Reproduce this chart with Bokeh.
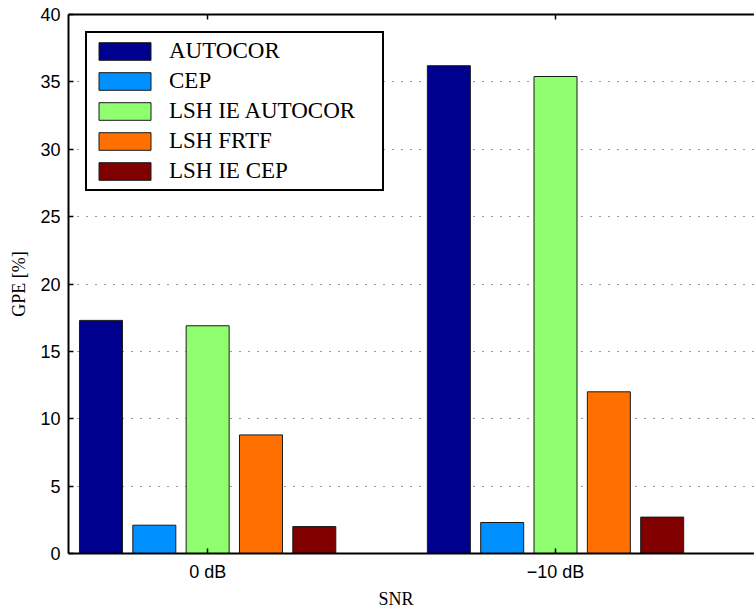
from bokeh.plotting import figure
from bokeh.models import (ColumnDataSource, FixedTicker, LinearAxis, Range1d,
                          Legend, LegendItem, Title)
from bokeh.embed import file_html
from bokeh.resources import INLINE

# Gross pitch error per method at two SNR conditions
snr_labels = ["0 dB", "\u221210 dB"]
snr_pos = [1, 2]
methods = ["AUTOCOR", "CEP", "LSH IE AUTOCOR", "LSH FRTF", "LSH IE CEP"]
gpe_autocor = [17.3, 36.2]
gpe_cep = [2.1, 2.3]
gpe_lsh_ie_autocor = [16.9, 35.4]
gpe_lsh_frtf = [8.8, 12.0]
gpe_lsh_ie_cep = [2.0, 2.7]
colors = ["#00008F", "#0090FF", "#8FFF70", "#FF7000", "#800000"]
y_ticks = [0, 5, 10, 15, 20, 25, 30, 35, 40]

series = [gpe_autocor, gpe_cep, gpe_lsh_ie_autocor, gpe_lsh_frtf, gpe_lsh_ie_cep]

p = figure(width=754, height=615, output_backend="svg", toolbar_location=None,
           x_range=Range1d(0.6, 2.572), y_range=Range1d(0, 40),
           min_border_left=68, min_border_right=0, min_border_top=14,
           min_border_bottom=62)
p.outline_line_color = None
p.background_fill_color = "white"
p.border_fill_color = "white"

step = 0.1533
bar_w = 0.1236
renderers = []
for i, (vals, col) in enumerate(zip(series, colors)):
    xs = [c + (i - 2) * step for c in snr_pos]
    src = ColumnDataSource(dict(x=xs, top=vals))
    r = p.vbar(x="x", top="top", width=bar_w, bottom=0, source=src,
               fill_color=col, line_color="#1a1a1a", line_width=1)
    renderers.append(r)

# axes
tick_font = "Liberation Sans"
p.xaxis.ticker = FixedTicker(ticks=snr_pos)
p.xaxis.major_label_overrides = {1: snr_labels[0], 2: snr_labels[1]}
p.yaxis.ticker = FixedTicker(ticks=y_ticks)
for ax in (p.xaxis[0], p.yaxis[0]):
    ax.axis_line_width = 2
    ax.axis_line_color = "black"
    ax.major_tick_in = 5
    ax.major_tick_out = 0
    ax.major_tick_line_color = "black"
    ax.major_tick_line_width = 1.5
    ax.minor_tick_line_color = None
    ax.major_label_text_font = tick_font
    ax.major_label_text_font_size = "18px"
    ax.major_label_text_color = "black"
p.xaxis.major_label_standoff = 8
p.yaxis.major_label_standoff = 8

p.yaxis.axis_label = "GPE [%]"
p.yaxis.axis_label_text_font = "Liberation Serif"
p.yaxis.axis_label_text_font_style = "normal"
p.yaxis.axis_label_text_font_size = "18px"
p.yaxis.axis_label_text_color = "black"
p.yaxis.axis_label_standoff = 8

# top frame edge with inward category ticks, no labels
top_axis = LinearAxis(ticker=FixedTicker(ticks=snr_pos),
                      major_label_overrides={1: "", 2: ""},
                      axis_line_width=2, major_tick_in=5, major_tick_out=0,
                      major_tick_line_width=1.5, minor_tick_line_color=None,
                      major_label_standoff=0)
p.add_layout(top_axis, "above")

# grid: dotted horizontal lines only
p.xgrid.visible = False
p.ygrid.grid_line_color = "#333333"
p.ygrid.grid_line_dash = "1 8"
p.ygrid.grid_line_width = 1.2
p.ygrid.ticker = FixedTicker(ticks=y_ticks[1:-1])

# x axis title
p.add_layout(Title(text="SNR", align="left", offset=310, standoff=4,
                   text_font="Liberation Serif", text_font_size="18px",
                   text_font_style="normal", text_color="black"), "below")

legend = Legend(items=[LegendItem(label=m, renderers=[r]) for m, r in zip(methods, renderers)],
                location="top_left")
legend.margin = 17
legend.padding = 5
legend.spacing = 4
legend.glyph_width = 65
legend.glyph_height = 22
legend.label_standoff = 12
legend.label_width = 208
legend.label_text_font = "Liberation Serif"
legend.label_text_font_size = "23px"
legend.label_text_color = "black"
legend.border_line_color = "black"
legend.border_line_alpha = 1
legend.border_line_width = 2
legend.background_fill_alpha = 1
p.add_layout(legend)

open("out.html", "w").write(file_html(p, INLINE))
